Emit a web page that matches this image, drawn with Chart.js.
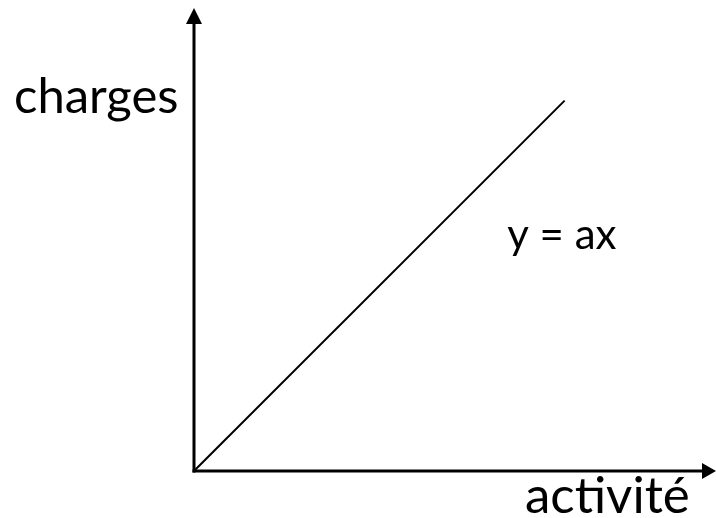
<!DOCTYPE html>
<html>
<head>
<meta charset="utf-8">
<script src="https://cdn.jsdelivr.net/npm/chart.js@4"></script>
<style>
html,body{margin:0;padding:0;background:#fff;}
#wrap{width:716px;height:518px;}
</style>
</head>
<body>
<div id="wrap"><canvas id="c" width="716" height="518"></canvas></div>
<script>
// Data
const lineX = [0, 7.1];
const lineY = [0, 8.0];
const xAxisLabel = "activité";
const yAxisLabel = "charges";
const equationLabel = "y = ax";
const equationPos = [6.0, 4.8];

const FONT = "Lato, 'Open Sans', sans-serif";

const axesPlugin = {
  id: 'axesPlugin',
  afterDatasetsDraw(chart) {
    const ctx = chart.ctx;
    const xs = chart.scales.x, ys = chart.scales.y;
    const ox = xs.getPixelForValue(0), oy = ys.getPixelForValue(0);
    const right = chart.chartArea.right, top = chart.chartArea.top;
    ctx.save();
    ctx.strokeStyle = '#000';
    ctx.fillStyle = '#000';
    ctx.lineWidth = 3;
    ctx.lineCap = 'butt';
    // y axis
    ctx.beginPath();
    ctx.moveTo(ox, oy + 1.5);
    ctx.lineTo(ox, top + 14);
    ctx.stroke();
    ctx.beginPath();
    ctx.moveTo(ox, top);
    ctx.lineTo(ox - 8, top + 16);
    ctx.lineTo(ox + 8, top + 16);
    ctx.closePath();
    ctx.fill();
    // x axis
    ctx.beginPath();
    ctx.moveTo(ox - 1.5, oy);
    ctx.lineTo(right - 12, oy);
    ctx.stroke();
    ctx.beginPath();
    ctx.moveTo(right, oy);
    ctx.lineTo(right - 14, oy - 8);
    ctx.lineTo(right - 14, oy + 8);
    ctx.closePath();
    ctx.fill();
    // labels
    ctx.textBaseline = 'alphabetic';
    ctx.textAlign = 'left';
    ctx.font = "49px " + FONT;
    ctx.fillText(yAxisLabel, 14, 113);
    ctx.font = "51px " + FONT;
    ctx.fillText(xAxisLabel, 525, 513);
    ctx.font = "42px " + FONT;
    ctx.fillText(equationLabel, xs.getPixelForValue(equationPos[0]), ys.getPixelForValue(equationPos[1]));
    ctx.restore();
  }
};

new Chart(document.getElementById('c'), {
  type: 'scatter',
  data: {
    datasets: [{
      data: lineX.map((x, i) => ({x: x, y: lineY[i]})),
      showLine: true,
      borderColor: '#000',
      borderWidth: 2,
      pointRadius: 0,
      fill: false
    }]
  },
  options: {
    responsive: false,
    animation: false,
    devicePixelRatio: 1,
    layout: { padding: { left: 194, right: 0, top: 8, bottom: 47 } },
    plugins: { legend: { display: false }, tooltip: { enabled: false } },
    scales: {
      x: { type: 'linear', display: false, min: 0, max: 10 },
      y: { type: 'linear', display: false, min: 0, max: 10 }
    }
  },
  plugins: [axesPlugin]
});
</script>
</body>
</html>
